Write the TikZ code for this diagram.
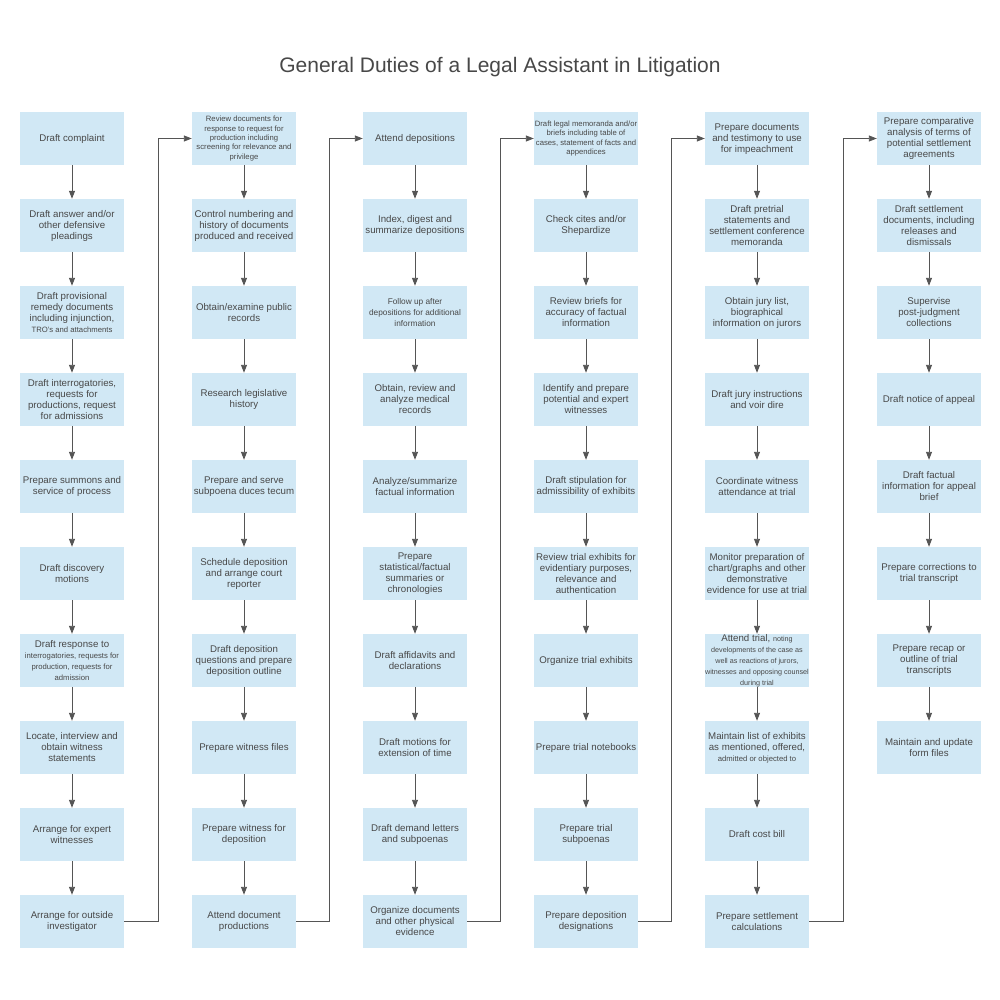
\documentclass[tikz,border=0pt]{standalone}
\usepackage{fontspec}
\setmainfont{Liberation Sans}
\usetikzlibrary{arrows.meta,calc}
\definecolor{boxfill}{RGB}{209,232,245}
\definecolor{txt}{RGB}{72,72,72}
\definecolor{ln}{RGB}{85,85,85}
\newcommand\sm{\fontsize{7.7}{9.4}\selectfont}
\newcommand\xs{\fontsize{7.2}{9.2}\selectfont}
\newcommand\ms{\fontsize{8.3}{10.8}\selectfont}
\begin{document}
\begin{tikzpicture}[x=1pt,y=-1pt,
  task/.style={draw=none,fill=boxfill,minimum width=104pt,minimum height=53pt,inner sep=0pt,align=center,text=txt,font=\fontsize{9.7}{11}\selectfont},
  arr/.style={draw=ln,line width=0.9pt,-{Triangle[width=6pt,length=8pt]}}]
\useasboundingbox (0,0) rectangle (1000,1000);
\node[font=\fontsize{21}{25}\selectfont,text=txt] (title) at (500,67.5) {General Duties of a Legal Assistant in Litigation};
% column 1
\node[task] (a1) at (72,138.5) {Draft complaint};
\node[task] (a2) at (72,225.5) {Draft answer and/or\\other defensive\\pleadings};
\node[task] (a3) at (72,312.5) {Draft provisional\\remedy documents\\including injunction,\\{\sm TRO's and attachments}};
\node[task] (a4) at (72,399.5) {Draft interrogatories,\\requests for\\productions, request\\for admissions};
\node[task] (a5) at (72,486.5) {Prepare summons and\\service of process};
\node[task] (a6) at (72,573.5) {Draft discovery\\motions};
\node[task] (a7) at (72,660.5) {Draft response to\\{\sm interrogatories, requests for}\\{\sm production, requests for}\\{\sm admission}};
\node[task] (a8) at (72,747.5) {Locate, interview and\\obtain witness\\statements};
\node[task] (a9) at (72,834.5) {Arrange for expert\\witnesses};
\node[task] (a10) at (72,921.5) {Arrange for outside\\investigator};
% column 2
\node[task,font=\sm] (b1) at (244,138.5) {Review documents for\\response to request for\\production including\\screening for relevance and\\privilege};
\node[task] (b2) at (244,225.5) {Control numbering and\\history of documents\\produced and received};
\node[task] (b3) at (244,312.5) {Obtain/examine public\\records};
\node[task] (b4) at (244,399.5) {Research legislative\\history};
\node[task] (b5) at (244,486.5) {Prepare and serve\\subpoena duces tecum};
\node[task] (b6) at (244,573.5) {Schedule deposition\\and arrange court\\reporter};
\node[task] (b7) at (244,660.5) {Draft deposition\\questions and prepare\\deposition outline};
\node[task] (b8) at (244,747.5) {Prepare witness files};
\node[task] (b9) at (244,834.5) {Prepare witness for\\deposition};
\node[task] (b10) at (244,921.5) {Attend document\\productions};
% column 3
\node[task] (c1) at (415,138.5) {Attend depositions};
\node[task] (c2) at (415,225.5) {Index, digest and\\summarize depositions};
\node[task,font=\ms] (c3) at (415,312.5) {Follow up after\\depositions for additional\\information};
\node[task] (c4) at (415,399.5) {Obtain, review and\\analyze medical\\records};
\node[task] (c5) at (415,486.5) {Analyze/summarize\\factual information};
\node[task] (c6) at (415,573.5) {Prepare\\statistical/factual\\summaries or\\chronologies};
\node[task] (c7) at (415,660.5) {Draft affidavits and\\declarations};
\node[task] (c8) at (415,747.5) {Draft motions for\\extension of time};
\node[task] (c9) at (415,834.5) {Draft demand letters\\and subpoenas};
\node[task] (c10) at (415,921.5) {Organize documents\\and other physical\\evidence};
% column 4
\node[task,font=\sm] (d1) at (586,138.5) {Draft legal memoranda and/or\\briefs including table of\\cases, statement of facts and\\appendices};
\node[task] (d2) at (586,225.5) {Check cites and/or\\Shepardize};
\node[task] (d3) at (586,312.5) {Review briefs for\\accuracy of factual\\information};
\node[task] (d4) at (586,399.5) {Identify and prepare\\potential and expert\\witnesses};
\node[task] (d5) at (586,486.5) {Draft stipulation for\\admissibility of exhibits};
\node[task] (d6) at (586,573.5) {Review trial exhibits for\\evidentiary purposes,\\relevance and\\authentication};
\node[task] (d7) at (586,660.5) {Organize trial exhibits};
\node[task] (d8) at (586,747.5) {Prepare trial notebooks};
\node[task] (d9) at (586,834.5) {Prepare trial\\subpoenas};
\node[task] (d10) at (586,921.5) {Prepare deposition\\designations};
% column 5
\node[task] (e1) at (757,138.5) {Prepare documents\\and testimony to use\\for impeachment};
\node[task] (e2) at (757,225.5) {Draft pretrial\\statements and\\settlement conference\\memoranda};
\node[task] (e3) at (757,312.5) {Obtain jury list,\\biographical\\information on jurors};
\node[task] (e4) at (757,399.5) {Draft jury instructions\\and voir dire};
\node[task] (e5) at (757,486.5) {Coordinate witness\\attendance at trial};
\node[task] (e6) at (757,573.5) {Monitor preparation of\\chart/graphs and other\\demonstrative\\evidence for use at trial};
\node[task] (e7) at (757,660.5) {Attend trial, {\xs noting}\\{\xs developments of the case as}\\{\xs well as reactions of jurors,}\\{\xs witnesses and opposing counsel}\\{\xs during trial}};
\node[task] (e8) at (757,747.5) {Maintain list of exhibits\\as mentioned, offered,\\{\sm admitted or objected to}};
\node[task] (e9) at (757,834.5) {Draft cost bill};
\node[task] (e10) at (757,921.5) {Prepare settlement\\calculations};
% column 6
\node[task] (f1) at (929,138.5) {Prepare comparative\\analysis of terms of\\potential settlement\\agreements};
\node[task] (f2) at (929,225.5) {Draft settlement\\documents, including\\releases and\\dismissals};
\node[task] (f3) at (929,312.5) {Supervise\\post-judgment\\collections};
\node[task] (f4) at (929,399.5) {Draft notice of appeal};
\node[task] (f5) at (929,486.5) {Draft factual\\information for appeal\\brief};
\node[task] (f6) at (929,573.5) {Prepare corrections to\\trial transcript};
\node[task] (f7) at (929,660.5) {Prepare recap or\\outline of trial\\transcripts};
\node[task] (f8) at (929,747.5) {Maintain and update\\form files};
% vertical arrows
\foreach \c in {a,b,c,d,e}{
  \foreach \i [evaluate=\i as \j using int(\i+1)] in {1,...,9}{
    \draw[arr] (\c\i.south) -- (\c\j.north);
  }
}
\foreach \i [evaluate=\i as \j using int(\i+1)] in {1,...,7}{
  \draw[arr] (f\i.south) -- (f\j.north);
}
% column links
\foreach \p/\q in {a10/b1,b10/c1,c10/d1,d10/e1,e10/f1}{
  \draw[arr] (\p.east) -- ($(\p.east)!0.5!(\p.east-|\q.west)$) |- (\q.west);
}
\end{tikzpicture}
\end{document}
